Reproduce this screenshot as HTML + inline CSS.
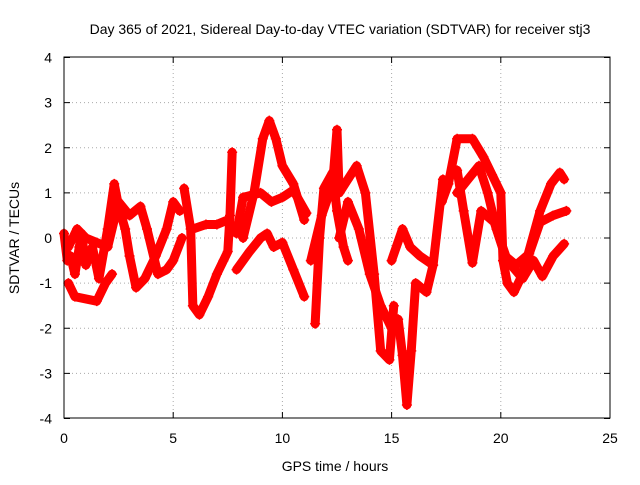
<!DOCTYPE html>
<html><head><meta charset="utf-8"><style>
body{margin:0;background:#fff;}
svg text{font-family:"Liberation Sans",sans-serif;font-size:14px;fill:#000;}
</style></head><body>
<svg id="chart" width="640" height="480">
<text x="340" y="34" text-anchor="middle">Day 365 of 2021, Sidereal Day-to-day VTEC variation (SDTVAR) for receiver stj3</text>
<text x="335" y="471" text-anchor="middle">GPS time / hours</text>
<text transform="translate(19,238) rotate(-90)" text-anchor="middle">SDTVAR / TECUs</text>
<g id="grid"></g><g id="ticks"></g><g id="series"></g>
<rect x="64" y="57" width="546" height="361" fill="none" stroke="#000"/>
</svg>
<script>
const xTicks=[0,5,10,15,20,25];
const yTicks=[-4,-3,-2,-1,0,1,2,3,4];
const trackA=[[0,0.1],[0.15,-0.5],[0.3,-0.4],[0.5,-0.8],[0.7,-0.2],[0.8,0.1],[1,-0.6],[1.3,-0.2],[1.6,-0.9],[2,0.2],[2.3,1.2],[2.5,0.7],[2.8,0.2],[3,-0.4],[3.3,-1.1],[3.7,-0.9],[4.2,-0.4],[4.7,0.2],[5,0.8],[5.3,0.6]];
const trackB=[[0.2,-0.2],[0.6,0.2],[1,0],[1.5,-0.1],[2,-0.2],[2.5,0.8],[3,0.5],[3.5,0.7],[3.8,0.2],[4.3,-0.8],[4.7,-0.7],[5,-0.5],[5.4,0]];
const trackN=[[0.2,-1.0],[0.5,-1.3],[1.5,-1.4],[1.9,-1.0],[2.2,-0.8]];
const trackC=[[5.5,1.1],[5.8,0.2],[5.9,-1.5],[6.2,-1.7],[6.6,-1.3],[7,-0.8],[7.3,-0.5],[7.5,-0.3],[7.6,0.5],[7.7,1.9]];
const trackD=[[5.9,0.2],[6.5,0.3],[7,0.3],[7.5,0.4],[7.9,0.1],[8.2,0.9],[9,1.0],[9.5,0.8],[10,0.9],[10.5,1.06],[11.1,0.55]];
const trackE=[[7.9,-0.7],[8.5,-0.3],[9,0],[9.3,0.1],[9.6,-0.2],[10,-0.1],[10.5,-0.7],[11,-1.3]];
const trackF=[[8.2,0],[8.7,1],[9.1,2.2],[9.4,2.6],[9.7,2.2],[10,1.6],[10.5,1.2],[11,0.4]];
const trackG=[[11.5,-1.9],[11.7,0],[11.9,1.1],[12.3,1.45],[12.5,0.6],[12.8,-0.2],[13,-0.5]];
const trackH=[[11.3,-0.5],[11.8,0.5],[12.3,1.2],[12.5,2.4],[12.6,1.0],[13,1.3],[13.4,1.6],[13.8,1.0],[14.2,-0.8],[14.5,-2.5],[14.9,-2.7],[15.1,-1.5]];
const trackI=[[12.6,0],[13,0.8],[13.5,0.2],[14,-0.8],[14.5,-1.5],[15,-2],[15.3,-1.8],[15.5,-2.6],[15.7,-3.7],[15.9,-2.5],[16.1,-1.0],[16.6,-1.2],[16.9,-0.6],[17.35,1.3]];
const trackJ=[[15,-0.5],[15.5,0.2],[15.85,-0.2],[16.3,-0.4],[16.9,-0.6]];
const trackK=[[17.3,0.8],[17.6,1.2],[18,2.2],[18.7,2.2],[19.2,1.8],[19.6,1.4],[20,1.0],[20.1,-0.5],[20.3,-1.0],[20.6,-1.2],[21,-0.8],[21.8,0.6],[22.3,1.2],[22.7,1.45],[22.9,1.3]];
const trackL=[[18,1.5],[18.3,0.6],[18.7,-0.55],[19.1,0.6],[19.7,0.35],[20.2,-0.4],[20.7,-0.6],[21.3,-0.35],[21.8,0.35],[22.4,0.5],[23,0.6]];
const trackM=[[18,1.0],[18.5,1.3],[19,1.6],[19.4,1.0],[19.8,0.2],[20.3,-0.5],[21,-0.9],[21.5,-0.5],[21.9,-0.85],[22.4,-0.4],[22.9,-0.13]];
const tracks=[trackA,trackB,trackN,trackC,trackD,trackE,trackF,trackG,trackH,trackI,trackJ,trackK,trackL,trackM];
const NS="http://www.w3.org/2000/svg";
const X=v=>64+v*546/25, Y=v=>238-v*361/8;
function mk(t,a,p){const e=document.createElementNS(NS,t);for(const k in a)e.setAttribute(k,a[k]);p.appendChild(e);return e;}
const grid=document.getElementById('grid'),ticks=document.getElementById('ticks'),ser=document.getElementById('series');
xTicks.forEach(t=>{const x=X(t);
 if(t>0&&t<25){const g=mk('line',{x1:x,x2:x,y1:57,y2:418,stroke:'#aaa','stroke-dasharray':'1,3'},grid);
 
 }
 const l=mk('text',{x:x,y:443,'text-anchor':'middle'},ticks);l.textContent=t;
 
 
 mk('line',{x1:x,x2:x,y1:418,y2:412,stroke:'#000'},ticks);mk('line',{x1:x,x2:x,y1:57,y2:63,stroke:'#000'},ticks);});
yTicks.forEach(t=>{const y=Y(t);
 if(t>-4&&t<4){const g=mk('line',{x1:64,x2:610,y1:y,y2:y,stroke:'#aaa','stroke-dasharray':'1,3'},grid);
 
 }
 const l=mk('text',{x:52,y:y+5,'text-anchor':'end'},ticks);l.textContent=t;
 
 
 mk('line',{x1:64,x2:70,y1:y,y2:y,stroke:'#000'},ticks);mk('line',{x1:610,x2:604,y1:y,y2:y,stroke:'#000'},ticks);});
tracks.forEach(tr=>{
 const p=mk('polyline',{points:tr.map(d=>X(d[0])+','+Y(d[1])).join(' '),fill:'none',stroke:'#f00','stroke-width':9,'stroke-linejoin':'round','stroke-linecap':'round'},ser);
 
 
 tr.forEach(d=>{const x=X(d[0]),y=Y(d[1]);
  const m=mk('path',{d:`M${x-5},${y}h10M${x},${y-5}v10`,stroke:'#f00','stroke-width':1.5},ser);
  
  });
});
</script>
</body></html>
